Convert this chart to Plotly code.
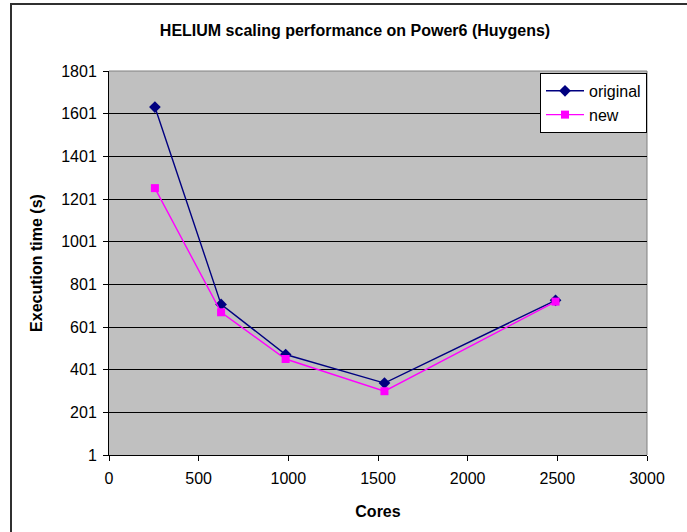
import plotly.graph_objects as go

# Scaling measurements on Power6 (Huygens)
cores = [256, 625, 985, 1536, 2490]
original_time = [1632, 707, 472, 338, 726]
new_time = [1252, 670, 451, 300, 720]

y_ticks = [1, 201, 401, 601, 801, 1001, 1201, 1401, 1601, 1801]
x_ticks = [0, 500, 1000, 1500, 2000, 2500, 3000]

FONT = "Liberation Sans, Arial, sans-serif"
FS = 16

fig = go.Figure()
fig.add_trace(go.Scatter(
    x=cores, y=original_time, name="original", mode="lines+markers",
    line=dict(color="#000080", width=1.4),
    marker=dict(symbol="diamond", size=9, color="#000080"),
))
fig.add_trace(go.Scatter(
    x=cores, y=new_time, name="new", mode="lines+markers",
    line=dict(color="#FF00FF", width=1.4),
    marker=dict(symbol="square", size=8, color="#FF00FF"),
))

fig.update_layout(
    width=687, height=532,
    margin=dict(l=109, r=40, t=71, b=77),
    paper_bgcolor="white",
    plot_bgcolor="#C0C0C0",
    font=dict(family=FONT, size=FS, color="black"),
    title=dict(
        text="<b>HELIUM scaling performance on Power6 (Huygens)</b>",
        x=355 / 687, xanchor="center", y=1 - 30 / 532, yanchor="middle",
        font=dict(family=FONT, size=16, color="black"),
    ),
    showlegend=True,
    legend=dict(
        x=1, xanchor="right", y=0.995, yanchor="top",
        bgcolor="white", bordercolor="black", borderwidth=1,
        font=dict(family=FONT, size=FS, color="black"),
        itemwidth=38, tracegroupgap=0,
    ),
    xaxis=dict(
        range=[0, 3000], tickvals=x_ticks, ticktext=[str(v) for v in x_ticks],
        showgrid=False, zeroline=False,
        showline=True, linecolor="black", linewidth=1,
        ticks="outside", ticklen=5, tickcolor="black",
        ticklabelstandoff=4,
        tickfont=dict(family=FONT, size=FS, color="black"),
        title=dict(text="<b>Cores</b>", standoff=19,
                   font=dict(family=FONT, size=FS, color="black")),
    ),
    yaxis=dict(
        range=[1, 1801], tickvals=y_ticks, ticktext=[str(v) for v in y_ticks],
        showgrid=True, gridcolor="black", gridwidth=1, zeroline=False,
        showline=True, linecolor="black", linewidth=1,
        ticks="outside", ticklen=5, tickcolor="black",
        ticklabelstandoff=3,
        tickfont=dict(family=FONT, size=FS, color="black"),
        title=dict(text="<b>Execution time (s)</b>", standoff=14,
                   font=dict(family=FONT, size=FS, color="black")),
    ),
    shapes=[
        # plot-area top and right edges
        dict(type="line", xref="paper", yref="paper", x0=0, x1=1, y0=1, y1=1,
             line=dict(color="#808080", width=1), layer="above"),
        dict(type="line", xref="paper", yref="paper", x0=1, x1=1, y0=0, y1=1,
             line=dict(color="#808080", width=1), layer="below"),
        # chart frame
        dict(type="rect", xref="paper", yref="paper",
             x0=-98 / 538, x1=1.2, y0=-0.3, y1=1 + 67 / 384,
             line=dict(color="#303030", width=2), fillcolor="rgba(0,0,0,0)"),
    ],
)

fig.write_html("out.html")
